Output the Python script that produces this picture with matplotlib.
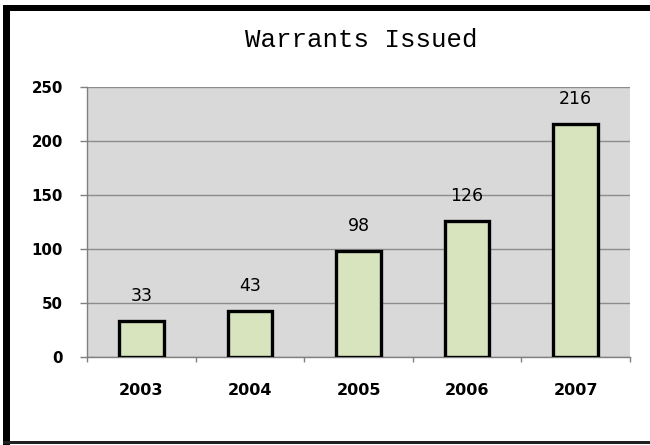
import matplotlib
matplotlib.use("Agg")
import matplotlib.pyplot as plt
from matplotlib.patches import Rectangle
from matplotlib.ticker import FixedLocator, NullFormatter, FixedFormatter

# Warrants issued per year
years = ["2003", "2004", "2005", "2006", "2007"]
warrants = [33, 43, 98, 126, 216]
y_ticks = [0, 50, 100, 150, 200, 250]

W, H = 650, 445
PT = 72 / 100  # points per pixel at 100 dpi
fig = plt.figure(figsize=(W / 100, H / 100), dpi=100)
fig.patch.set_facecolor("white")

# Frame around the chart: heavy on top and left, thin along the bottom
def px_rect(x0, y0, x1, y1, color):
    fig.patches.append(Rectangle((x0 / W, 1 - y1 / H), (x1 - x0) / W, (y1 - y0) / H,
                                 transform=fig.transFigure, facecolor=color,
                                 edgecolor="none", zorder=10))

px_rect(3, 5, W, 11, "black")
px_rect(3, 5, 10, H, "black")
px_rect(3, 441, W, 444, "#202020")

left, right, top, bottom = 87, 630, 87, 357
ax = fig.add_axes([left / W, 1 - bottom / H, (right - left) / W, (bottom - top) / H])
ax.set_facecolor("#d9d9d9")

x = list(range(len(years)))
ax.bar(x, warrants, width=0.41, color="#d7e4bd", edgecolor="black",
       linewidth=2.4, zorder=3)

for xi, v in zip(x, warrants):
    ax.annotate(str(v), (xi, v), xytext=(0, 16 * PT), textcoords="offset points",
                ha="center", va="bottom", fontsize=12.5, family="DejaVu Sans",
                color="black", zorder=4)

ax.set_xlim(-0.5, len(years) - 0.5)
ax.set_ylim(0, 250)

ax.set_yticks(y_ticks)
ax.set_yticklabels([str(t) for t in y_ticks])
ax.yaxis.grid(True, color="#8c8c8c", linewidth=1.0, zorder=0)
ax.set_axisbelow(True)

# Tick marks sit between the categories; labels sit under each bar
ax.xaxis.set_major_locator(FixedLocator([i - 0.5 for i in range(len(years) + 1)]))
ax.xaxis.set_major_formatter(NullFormatter())
ax.xaxis.set_minor_locator(FixedLocator(x))
ax.xaxis.set_minor_formatter(FixedFormatter(years))
ax.tick_params(axis="x", which="major", direction="out", length=5 * PT, width=1,
               color="#808080")
ax.tick_params(axis="x", which="minor", length=0, pad=26 * PT, labelsize=11.5)
ax.tick_params(axis="y", direction="out", length=7 * PT, width=1, color="#808080",
               pad=17 * PT, labelsize=10.8)
for lbl in ax.get_xticklabels(minor=True) + ax.get_yticklabels():
    lbl.set_fontweight("bold")
    lbl.set_family("DejaVu Sans")

for side in ("top", "right"):
    ax.spines[side].set_visible(False)
for side in ("left", "bottom"):
    ax.spines[side].set_color("#808080")
    ax.spines[side].set_linewidth(1.0)

fig.text(361 / W, 1 - 40 / H, "Warrants Issued", ha="center", va="center",
         fontsize=18.5, family="Liberation Mono", color="black")

fig.savefig("out.png", dpi=100)
